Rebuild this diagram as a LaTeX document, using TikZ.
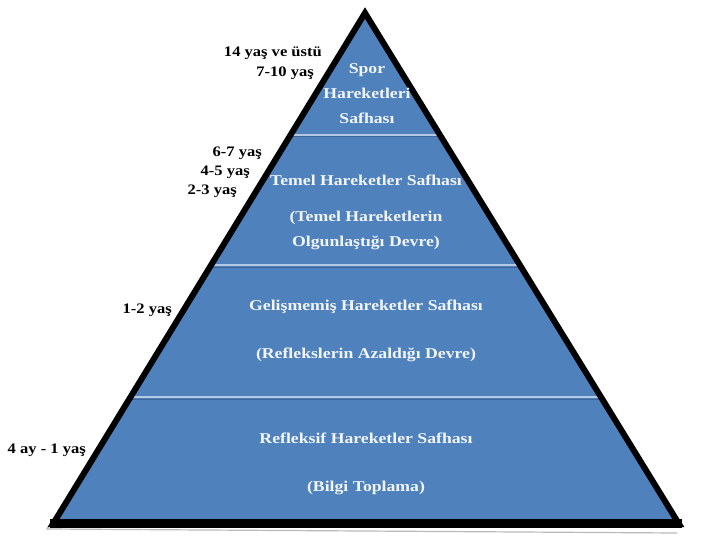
\documentclass[tikz,border=0pt]{standalone}
\usepackage{fontspec}
\usepackage{graphicx}
\setmainfont{Liberation Serif}
\usetikzlibrary{calc}
\definecolor{pyrblue}{HTML}{4F81BD}
\definecolor{seplight}{HTML}{B4C8E4}
\definecolor{sepdark}{HTML}{3C659A}
\definecolor{txtwhite}{HTML}{F2F5FA}
\newcommand{\lwide}[1]{\scalebox{1.18}[1]{#1}}
\newcommand{\awide}[1]{\scalebox{1.14}[1]{#1}}
\tikzset{
  layertext/.style={text=txtwhite, font=\fontsize{15}{17}\selectfont\bfseries, inner sep=0pt, align=center},
  agetext/.style={text=black, font=\fontsize{14.5}{16}\selectfont\bfseries, inner sep=0pt, anchor=east},
  sepline/.style={seplight, line width=2pt},
  sepshadow/.style={sepdark, line width=1pt},
}
\begin{document}
\begin{tikzpicture}[x=1pt,y=-1pt]
\useasboundingbox (0,0) rectangle (720,540);
\fill[white] (0,0) rectangle (720,540);
\coordinate (A) at (365,13);
\coordinate (BL) at (53,524);
\coordinate (BR) at (679,524);
% shadow
\draw[gray!55, line width=1.2pt] ($(A)+(-4,4)$) -- ($(BL)+(-6,5)$) -- ($(BR)+(-2,9)$);
% fill
\fill[pyrblue] (A) -- (BL) -- (BR) -- cycle;
\begin{scope}
\clip (A) -- (BL) -- (BR) -- cycle;
\foreach \y in {135,265,397}{
  \draw[sepshadow] (0,\y+2) -- (720,\y+2);
  \draw[sepline] (0,\y) -- (720,\y);
}
\end{scope}
% border
\draw[black, line width=6pt, line join=miter] (A) -- (BL) -- (BR) -- cycle;
\fill[black] ($(BL)+(-3,-5)$) rectangle ($(BR)+(3,4)$);
% layer texts
\node[layertext] (s1) at (367,70) {\lwide{Spor}};
\node[layertext] (s2) at (367,93) {\lwide{Hareketleri}};
\node[layertext] (s3) at (367,118) {\lwide{Safhası}};
\node[layertext] (t1) at (366,180) {\lwide{Temel Hareketler Safhası}};
\node[layertext] (t2) at (366,218) {\lwide{(Temel Hareketlerin}};
\node[layertext] (t3) at (366,243) {\lwide{Olgunlaştığı Devre)}};
\node[layertext] (g1) at (366,307) {\lwide{Gelişmemiş Hareketler Safhası}};
\node[layertext] (g2) at (366,355) {\lwide{(Reflekslerin Azaldığı Devre)}};
\node[layertext] (r1) at (366,438) {\lwide{Refleksif Hareketler Safhası}};
\node[layertext] (r2) at (366,488) {\lwide{(Bilgi Toplama)}};
% age labels
\node[agetext] (a1) at (322,53) {\awide{14 yaş ve üstü}};
\node[agetext] (a2) at (314,73) {\awide{7-10 yaş}};
\node[agetext] (a3) at (262,153) {\awide{6-7 yaş}};
\node[agetext] (a4) at (250,172) {\awide{4-5 yaş}};
\node[agetext] (a5) at (237,191) {\awide{2-3 yaş}};
\node[agetext] (a6) at (172,310) {\awide{1-2 yaş}};
\node[agetext] (a7) at (86,450) {\awide{4 ay - 1 yaş}};
\end{tikzpicture}
\end{document}
